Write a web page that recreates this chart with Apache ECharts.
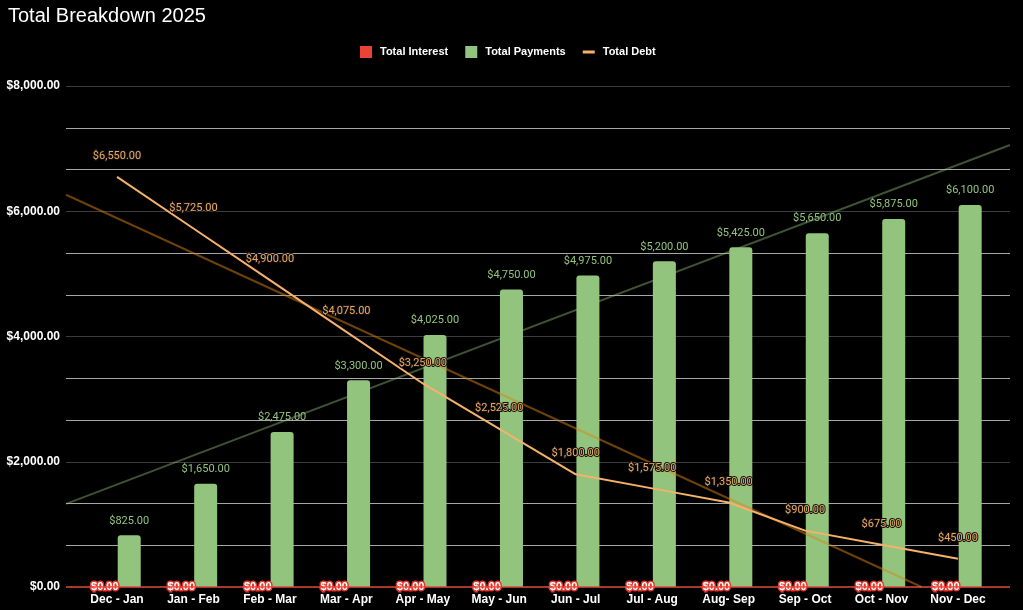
<!DOCTYPE html>
<html>
<head>
<meta charset="utf-8">
<script src="https://cdn.jsdelivr.net/npm/echarts@6/dist/echarts.min.js"></script>
<style>
html,body{margin:0;padding:0;background:#000;}
#chart{width:1023px;height:610px;}
</style>
</head>
<body>
<div id="chart"></div>
<script>
const categories = ['Dec - Jan','Jan - Feb','Feb - Mar','Mar - Apr','Apr - May','May - Jun','Jun - Jul','Jul - Aug','Aug- Sep','Sep - Oct','Oct - Nov','Nov - Dec'];
const totalInterest = [0,0,0,0,0,0,0,0,0,0,0,0];
const totalPayments = [825,1650,2475,3300,4025,4750,4975,5200,5425,5650,5875,6100];
const totalDebt = [6550,5725,4900,4075,3250,2525,1800,1575,1350,900,675,450];
const yTicks = [0,2000,4000,6000,8000];

const xMin = -0.667, xMax = 11.69;

function trend(vals){
  const n = vals.length;
  let sx=0, sy=0, sxy=0, sxx=0;
  vals.forEach((v,i)=>{sx+=i; sy+=v; sxy+=i*v; sxx+=i*i;});
  const b = (n*sxy - sx*sy)/(n*sxx - sx*sx);
  const a = (sy - b*sx)/n;
  return {a, b};
}
function trendLine(vals){
  const t = trend(vals);
  let x0 = xMin, x1 = xMax;
  const y0 = t.a + t.b*x0;
  let y1 = t.a + t.b*x1;
  if (y1 < 0 && t.b !== 0) { x1 = -t.a/t.b; y1 = 0; }
  return [[x0,y0],[x1,y1]];
}

const money = v => '$' + Number(v).toLocaleString('en-US',{minimumFractionDigits:2, maximumFractionDigits:2});
const font = 'Liberation Sans, Arial, sans-serif';

const chart = echarts.init(document.getElementById('chart'));
chart.setOption({
  backgroundColor:'#000',
  animation:false,
  textStyle:{fontFamily:font},
  title:{text:'Total Breakdown 2025', left:3, top:1, textStyle:{color:'#fff', fontSize:20, fontWeight:'normal', fontFamily:font}},
  legend:{
    top:41, left:355, itemWidth:12, itemHeight:12, itemGap:17,
    textStyle:{color:'#fff', fontSize:11, fontWeight:'bold', fontFamily:font, padding:[0,0,0,3]},
    data:[
      {name:'Total Interest', icon:'rect'},
      {name:'Total Payments', icon:'rect'},
      {name:'Total Debt', icon:'path://M0,0H24V6H0Z'}
    ]
  },
  grid:[
    {left:66, right:13, top:86, bottom:23},
    {left:78.8, right:26.8, top:86, bottom:23}
  ],
  xAxis:[
    {type:'value', gridIndex:0, min:xMin, max:xMax, show:false},
    {type:'category', gridIndex:1, data:categories, boundaryGap:true,
     axisLine:{show:false}, axisTick:{show:false},
     axisLabel:{color:'#fff', fontSize:12, fontWeight:'bold', margin:7, interval:0, fontFamily:font}}
  ],
  yAxis:[
    {type:'value', gridIndex:0, min:yTicks[0], max:yTicks[yTicks.length-1], interval:2000,
     axisLine:{show:false}, axisTick:{show:false},
     axisLabel:{color:'#fff', fontSize:12, fontWeight:'bold', margin:6, formatter:v=>money(v), fontFamily:font},
     splitLine:{show:true, lineStyle:{color:'#3d3d3d', width:1}},
     minorTick:{show:false, splitNumber:3},
     minorSplitLine:{show:true, lineStyle:{color:'#a6a6a6', width:1}}
    },
    {type:'value', gridIndex:1, min:yTicks[0], max:yTicks[yTicks.length-1], show:false, splitLine:{show:false}}
  ],
  series:[
    {name:'Total Interest', type:'bar', xAxisIndex:1, yAxisIndex:1, data:totalInterest,
     barWidth:23, barGap:'6%', itemStyle:{color:'#ea4335'}, z:3,
     label:{show:true, position:'inside', formatter:p=>money(p.value), color:'#fff', fontSize:11, fontWeight:'bold',
            textBorderColor:'#e8342a', textBorderWidth:3, fontFamily:font}},
    {name:'Total Payments', type:'bar', xAxisIndex:1, yAxisIndex:1, data:totalPayments,
     barWidth:23, barGap:'6%', itemStyle:{color:'#93c47d', borderRadius:[3,3,0,0]}, z:2,
     label:{show:true, position:'top', distance:9, formatter:p=>money(p.value), color:'#93c47d', fontSize:11, fontFamily:'Roboto, sans-serif'}},
    {name:'Total Debt', type:'line', xAxisIndex:1, yAxisIndex:1, data:totalDebt,
     symbol:'circle', symbolSize:0.1, showSymbol:true, lineStyle:{color:'#f6b26b', width:2}, itemStyle:{color:'#f6b26b'}, z:6,
     label:{show:true, position:'top', distance:15, formatter:p=>money(p.value), color:'#eea75e', fontSize:11,
            textBorderColor:'#111', textBorderWidth:2, fontFamily:'Roboto, sans-serif'}},
    {name:'trendInterest', type:'line', xAxisIndex:0, yAxisIndex:0, data:trendLine(totalInterest),
     symbol:'none', silent:true, lineStyle:{color:'#ea4335', width:1.5}, z:4},
    {name:'trendPayments', type:'line', xAxisIndex:0, yAxisIndex:0, data:trendLine(totalPayments),
     symbol:'none', silent:true, lineStyle:{color:'rgba(147,196,125,0.42)', width:2}, z:4},
    {name:'trendDebt', type:'line', xAxisIndex:0, yAxisIndex:0, data:trendLine(totalDebt),
     symbol:'none', silent:true, lineStyle:{color:'rgba(220,130,20,0.5)', width:2}, z:4}
  ]
});
</script>
</body>
</html>
